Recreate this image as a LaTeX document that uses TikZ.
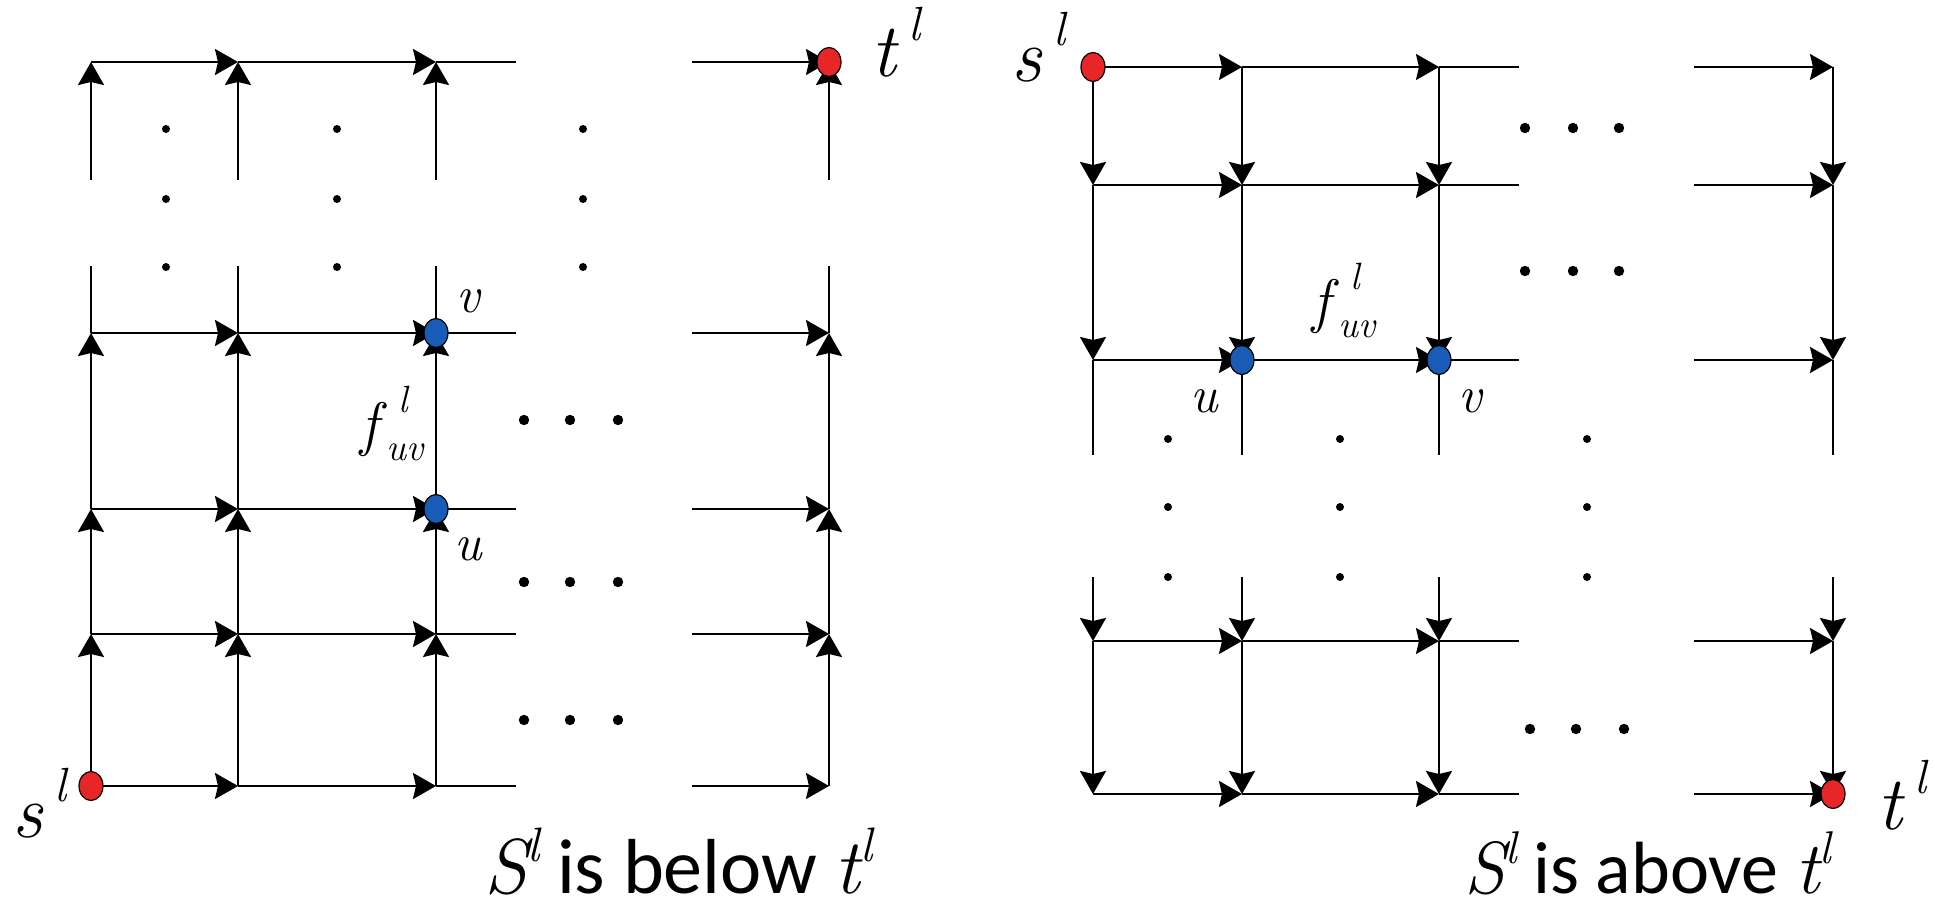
\documentclass[tikz,border=0pt]{standalone}
\usepackage{fontspec}
\newcommand{\tnr}{\rmfamily}
\newfontfamily\calibri{Carlito}
\usetikzlibrary{arrows.meta,shapes.geometric}
\definecolor{nodeRed}{RGB}{232,38,40}
\definecolor{nodeBlue}{RGB}{24,92,184}
\newcommand{\bigsup}[1]{{\tnr\fontsize{38}{40}\selectfont\itshape #1\hspace{6pt}\raisebox{18pt}{\fontsize{24}{24}\selectfont l}}}
\newcommand{\fuv}{{\tnr\fontsize{30}{32}\selectfont\itshape\makebox[0pt][l]{f}\makebox[0pt][l]{\hspace{19pt}\raisebox{16pt}{\fontsize{19}{19}\selectfont l}}\hspace{13pt}\raisebox{-8pt}{\fontsize{19}{19}\selectfont uv}}}
\newcommand{\capsup}[2]{{\tnr\fontsize{#2}{#2}\selectfont\itshape #1\raisebox{0.4em}{\fontsize{0.62em}{0.62em}\selectfont l}}}
\begin{document}
\begin{tikzpicture}[x=0.5pt,y=-0.5pt,
  edge/.style={line width=1.1pt, black},
  arr/.style={edge, -{Stealth[length=11.5pt,width=13pt,inset=1.5pt]}},
  vtx/.style={ellipse, draw=black, line width=0.6pt, minimum width=12pt, minimum height=14.5pt, inner sep=0pt},
  redvtx/.style={vtx, fill=nodeRed},
  bluevtx/.style={vtx, fill=nodeBlue},
  lab/.style={inner sep=0pt, anchor=base west, text depth=0pt},
  smalllab/.style={lab, font=\tnr\fontsize{26}{28}\selectfont\itshape},
]
\useasboundingbox (0,0) rectangle (1935,910);

% ---------------- left grid (S below t) ----------------
\foreach \c/\x in {1/91,2/238,3/436,4/829}{
  \foreach \r/\y in {1/62,2/333,3/509,4/634,5/786}{
    \coordinate (L\c\r) at (\x,\y);
  }
  \coordinate (LvA\c) at (\x,180);
  \coordinate (LvB\c) at (\x,266);
}
\foreach \r/\y in {1/62,2/333,3/509,4/634,5/786}{
  \coordinate (LgA\r) at (516,\y);
  \coordinate (LgB\r) at (692,\y);
}
\foreach \r in {1,...,5}{
  \draw[arr] (L1\r) -- (L2\r);
  \draw[arr] (L2\r) -- (L3\r);
  \draw[edge] (L3\r) -- (LgA\r);
  \draw[arr] (LgB\r) -- (L4\r);
}
\foreach \c in {1,...,4}{
  \draw[arr] (L\c5) -- (L\c4);
  \draw[arr] (L\c4) -- (L\c3);
  \draw[arr] (L\c3) -- (L\c2);
  \draw[edge] (L\c2) -- (LvB\c);
  \draw[arr] (LvA\c) -- (L\c1);
}
\foreach \x in {166,337,583}{
  \foreach \y in {129,199,267}{ \fill (\x,\y) circle (2pt); }
}
\foreach \y in {420,582,720}{
  \foreach \x in {524,570,618}{ \fill (\x,\y) circle (2.6pt); }
}
\node[redvtx] (sL) at (L15) {};
\node[redvtx] (tL) at (L41) {};
\node[bluevtx] (vL) at (L32) {};
\node[bluevtx] (uL) at (L33) {};
\node[lab] (sLlab) at (12,837) {\bigsup{s}};
\node[lab] (tLlab) at (871,76) {\bigsup{t}};
\node[smalllab] (vLlab) at (456,312) {v};
\node[smalllab] (uLlab) at (454,560) {u};
\node[lab] (fLlab) at (360,444) {\fuv};
\node[lab] (capL) at (484,893) {\capsup{S}{39}{\calibri\fontsize{39}{39}\selectfont\ is below }\capsup{t}{39}};

% ---------------- right grid (S above t) ----------------
\foreach \c/\x in {1/1093,2/1242,3/1439,4/1833}{
  \foreach \r/\y in {1/67,2/185,3/360,4/641,5/794}{
    \coordinate (R\c\r) at (\x,\y);
  }
  \coordinate (RvA\c) at (\x,455);
  \coordinate (RvB\c) at (\x,577);
}
\foreach \r/\y in {1/67,2/185,3/360,4/641,5/794}{
  \coordinate (RgA\r) at (1519,\y);
  \coordinate (RgB\r) at (1694,\y);
}
\foreach \r in {1,...,5}{
  \draw[arr] (R1\r) -- (R2\r);
  \draw[arr] (R2\r) -- (R3\r);
  \draw[edge] (R3\r) -- (RgA\r);
  \draw[arr] (RgB\r) -- (R4\r);
}
\foreach \c in {1,...,4}{
  \draw[arr] (R\c1) -- (R\c2);
  \draw[arr] (R\c2) -- (R\c3);
  \draw[edge] (R\c3) -- (RvA\c);
  \draw[arr] (RvB\c) -- (R\c4);
  \draw[arr] (R\c4) -- (R\c5);
}
\foreach \x in {1168,1340,1587}{
  \foreach \y in {439,507,577}{ \fill (\x,\y) circle (2pt); }
}
\foreach \y in {128,271}{
  \foreach \x in {1525,1573,1619}{ \fill (\x,\y) circle (2.6pt); }
}
\foreach \x in {1530,1576,1624}{ \fill (\x,729) circle (2.6pt); }
\node[redvtx] (sR) at (R11) {};
\node[redvtx] (tR) at (R45) {};
\node[bluevtx] (uR) at (R23) {};
\node[bluevtx] (vR) at (R33) {};
\node[lab] (sRlab) at (1011,82) {\bigsup{s}};
\node[lab] (tRlab) at (1877,829) {\bigsup{t}};
\node[smalllab] (uRlab) at (1190,412) {u};
\node[smalllab] (vRlab) at (1458,412) {v};
\node[lab] (fRlab) at (1312,321) {\fuv};
\node[lab] (capR) at (1464,893) {\capsup{S}{37}{\calibri\fontsize{37}{37}\selectfont\ is above }\capsup{t}{37}};
\end{tikzpicture}
\end{document}
